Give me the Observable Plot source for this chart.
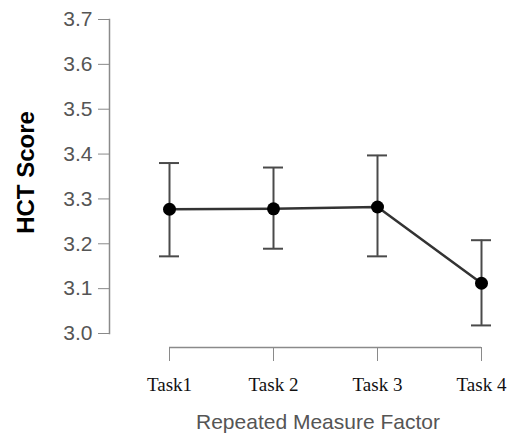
<!DOCTYPE html>
<html>
<head>
<meta charset="utf-8">
<script src="https://cdn.jsdelivr.net/npm/d3@7"></script>
<script src="https://cdn.jsdelivr.net/npm/@observablehq/plot@0.6"></script>
<style>
  html, body { margin: 0; padding: 0; background: #fff; }
</style>
</head>
<body>
<div id="chart"></div>
<script>
const tasks = ["Task1", "Task 2", "Task 3", "Task 4"];
const means = [3.277, 3.278, 3.282, 3.112];
const upper = [3.380, 3.370, 3.397, 3.208];
const lower = [3.172, 3.189, 3.172, 3.018];
const yTicks = [3.0, 3.1, 3.2, 3.3, 3.4, 3.5, 3.6, 3.7];
const xTitle = "Repeated Measure Factor";
const yTitle = "HCT Score";

const data = tasks.map((t, i) => ({task: t, mean: means[i], hi: upper[i], lo: lower[i]}));

const chart = Plot.plot({
  width: 508,
  height: 437,
  marginTop: 19,
  marginBottom: 104,
  marginLeft: 109,
  marginRight: 0,
  style: {background: "#fff", overflow: "visible"},
  x: {type: "point", domain: tasks, range: [169, 481], padding: 0},
  y: {domain: [3.0, 3.7], ticks: yTicks},
  marks: [
    Plot.frame({anchor: "left", stroke: "#8a8a8a", strokeWidth: 1.5}),
    Plot.axisY({ticks: yTicks, tickFormat: ".1f", tickSize: 11, tickPadding: 6,
      stroke: "#8a8a8a", fill: "#555", fontSize: 21, fontFamily: "Liberation Sans, Arial, sans-serif", label: null}),
    Plot.ruleY([yTicks[0]], {x1: () => tasks[0], x2: () => tasks[tasks.length - 1], dy: 14, stroke: "#8a8a8a", strokeWidth: 1.5}),
    Plot.axisX({tickSize: 14, tickPadding: 16, dy: 14, stroke: "#8a8a8a", fill: "#111",
      fontSize: 19, fontFamily: "Liberation Serif, Times New Roman, serif", label: null}),
    Plot.text([xTitle], {frameAnchor: "bottom", dx: 9, dy: 89, lineAnchor: "middle",
      fill: "#555", fontSize: 21, fontFamily: "Liberation Sans, Arial, sans-serif"}),
    Plot.text([yTitle], {frameAnchor: "left", textAnchor: "middle", rotate: -90, dx: -83, dy: -4, lineAnchor: "middle",
      fill: "#000", fontWeight: "bold", fontSize: 24, fontFamily: "Liberation Sans, Arial, sans-serif"}),
    Plot.ruleX(data, {x: "task", y1: "lo", y2: "hi", stroke: "#4a4a4a", strokeWidth: 2}),
    Plot.ruleY(data, {x1: "task", x2: "task", y: "hi", insetLeft: -10, insetRight: -10, stroke: "#4a4a4a", strokeWidth: 2}),
    Plot.ruleY(data, {x1: "task", x2: "task", y: "lo", insetLeft: -10, insetRight: -10, stroke: "#4a4a4a", strokeWidth: 2}),
    Plot.line(data, {x: "task", y: "mean", stroke: "#333", strokeWidth: 2.5}),
    Plot.dot(data, {x: "task", y: "mean", r: 6.5, fill: "#000"})
  ]
});
document.getElementById("chart").appendChild(chart);
</script>
</body>
</html>
